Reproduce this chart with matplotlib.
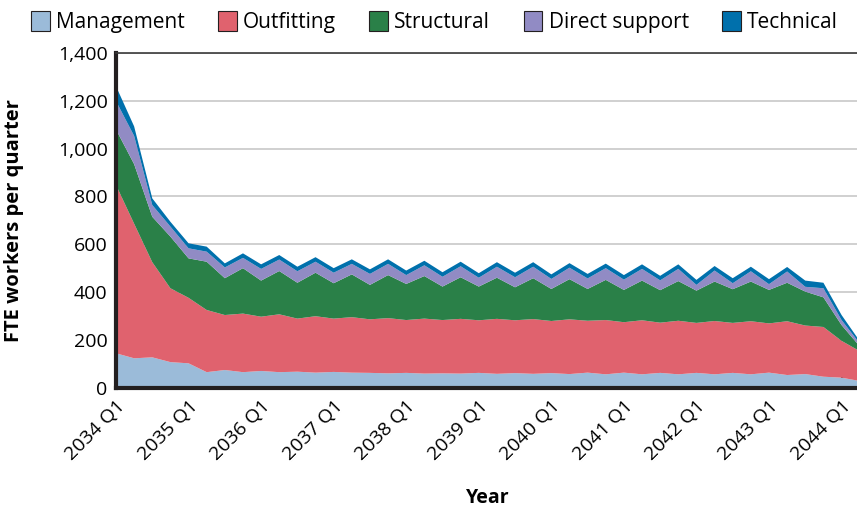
import matplotlib
matplotlib.use("Agg")
import matplotlib.pyplot as plt
from matplotlib.patches import Patch
import numpy as np

plt.rcParams['font.family'] = ['Open Sans', 'DejaVu Sans']

quarters = [f"{2034 + i // 4} Q{i % 4 + 1}" for i in range(42)]
tick_labels = [f"{y} Q1" for y in range(2034, 2045)]

management = [144, 123, 127, 107, 102, 65, 74, 65, 70, 65, 67, 63, 66, 63, 62, 60, 62, 59, 60, 59, 62,
              58, 61, 58, 61, 57, 63, 56, 63, 56, 62, 56, 62, 56, 62, 56, 63, 53, 57, 46, 42, 28]
outfitting = [704, 563, 398, 309, 274, 260, 230, 245, 227, 242, 222, 236, 223, 232, 224, 231, 221, 230, 223, 229, 220,
              230, 221, 229, 218, 229, 217, 227, 211, 226, 210, 224, 209, 223, 209, 222, 206, 225, 203, 208, 154, 125]
structural = [232, 249, 190, 216, 165, 202, 154, 190, 151, 181, 150, 182, 148, 179, 144, 180, 151, 178, 140, 174, 141,
              172, 138, 171, 134, 168, 133, 168, 135, 166, 136, 166, 135, 165, 141, 166, 140, 161, 142, 124, 66, 20]
direct_support = [119, 118, 49, 42, 42, 42, 45, 43, 49, 48, 48, 46, 44, 44, 46, 47, 37, 45, 41, 46, 37,
                  46, 42, 48, 42, 48, 44, 49, 43, 49, 41, 51, 24, 46, 25, 43, 24, 47, 20, 38, 21, 12]
technical = [62, 40, 28, 20, 21, 21, 17, 19, 19, 19, 19, 19, 19, 19, 19, 19, 19, 19, 19, 19, 19,
             19, 19, 19, 19, 19, 19, 19, 19, 19, 19, 19, 21, 19, 21, 19, 21, 19, 26, 23, 21, 10]

series_names = ["Management", "Outfitting", "Structural", "Direct support", "Technical"]
colors = ["#9BBBD9", "#E0626E", "#2A8048", "#918BC4", "#0070AC"]

fig = plt.figure(figsize=(8.57, 5.12), dpi=100)
ax = fig.add_axes([116 / 857, (512 - 387.7) / 512, (859.7 - 116) / 857, (387.7 - 53) / 512])

x = np.arange(len(quarters))
ax.stackplot(x, management, outfitting, structural, direct_support, technical,
             colors=colors, linewidth=0, zorder=2)

ax.set_xlim(0, 41)
ax.set_ylim(0, 1400)
ax.set_yticks(range(0, 1401, 200))
ax.set_yticklabels([f"{v:,}" for v in range(0, 1401, 200)], fontsize=14)
ax.set_xticks(range(0, 41, 4))
ax.set_xticklabels(tick_labels, rotation=45, ha='right', rotation_mode='anchor', fontsize=14)

ax.grid(axis='y', color='#C8C8C8', linewidth=1.2, zorder=0)
ax.set_axisbelow(True)
ax.tick_params(axis='y', length=0, pad=6)
ax.tick_params(axis='x', direction='in', length=10, width=1.5, color='#231F20', pad=7)

for s in ['left', 'bottom']:
    ax.spines[s].set_linewidth(3)
    ax.spines[s].set_color('#231F20')
ax.spines['right'].set_visible(False)
ax.spines['top'].set_linewidth(1.2)
ax.spines['top'].set_color('#3A3A3A')
for s in ax.spines.values():
    s.set_zorder(5)

ax.set_ylabel("FTE workers per quarter", fontsize=14.5, fontweight='bold', labelpad=24)
ax.set_xlabel("Year", fontsize=14, fontweight='bold', labelpad=17)

handles = [Patch(facecolor=c, edgecolor='#231F20', linewidth=0.8) for c in colors]
fig.legend(handles, series_names, loc='upper center', bbox_to_anchor=(0.507, 1.015), ncol=5,
           frameon=False, fontsize=15, handlelength=0.9, handleheight=1.1,
           handletextpad=0.3, columnspacing=1.6)

fig.savefig("out.png", dpi=100)
